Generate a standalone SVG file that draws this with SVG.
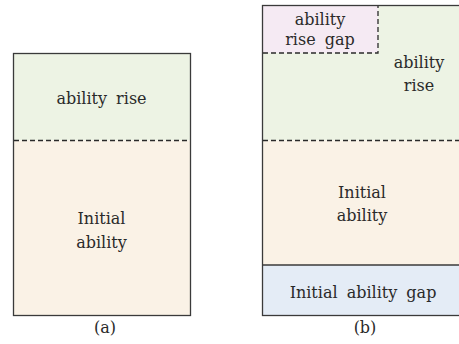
<svg xmlns="http://www.w3.org/2000/svg" width="459" height="344" viewBox="0 0 459 344">
<style>
.t{font-family:'DejaVu Serif','Liberation Serif',serif;font-size:16px;fill:#2a2a2a;text-anchor:middle;word-spacing:4px}
.box{stroke:#3a3a3a;stroke-width:1.3}
.dash{stroke:#2a2a2a;stroke-width:1.3;stroke-dasharray:5 3;fill:none}
</style>
<rect width="459" height="344" fill="#ffffff"/>
<g id="panel-a">
  <g id="a-rise">
    <rect x="13.5" y="53.5" width="177" height="87" fill="#edf3e4"/>
    <text class="t" x="101.5" y="104">ability rise</text>
  </g>
  <g id="a-initial">
    <rect x="13.5" y="140.5" width="177" height="175" fill="#faf2e6"/>
    <text class="t" x="101.5" y="224">Initial</text>
    <text class="t" x="101.5" y="248">ability</text>
  </g>
  <rect class="box" x="13.5" y="53.5" width="177" height="262" fill="none"/>
  <line class="dash" x1="14" y1="140.5" x2="190" y2="140.5"/>
  <text id="label-a" class="t" x="105" y="333">(a)</text>
</g>
<g id="panel-b">
  <g id="b-rise">
    <rect x="262.5" y="5.5" width="200" height="135" fill="#edf3e4"/>
    <text class="t" x="419" y="68">ability</text>
    <text class="t" x="419" y="91">rise</text>
  </g>
  <g id="b-rise-gap">
    <rect x="262.5" y="5.5" width="115.5" height="47.5" fill="#f5eaf3"/>
    <text class="t" x="320" y="25">ability</text>
    <text class="t" x="320" y="45">rise gap</text>
  </g>
  <g id="b-initial">
    <rect x="262.5" y="140.5" width="200" height="124.5" fill="#faf2e6"/>
    <text class="t" x="362" y="198">Initial</text>
    <text class="t" x="362" y="221">ability</text>
  </g>
  <g id="b-initial-gap">
    <rect x="262.5" y="265" width="200" height="50.5" fill="#e4ecf6"/>
    <text class="t" x="363" y="298">Initial ability gap</text>
  </g>
  <rect class="box" x="262.5" y="5.5" width="200" height="310" fill="none"/>
  <line class="box" x1="262.5" y1="265" x2="462" y2="265"/>
  <g id="connectors">
    <line class="dash" x1="263" y1="140.5" x2="462" y2="140.5"/>
    <polyline class="dash" points="263,53 378,53 378,6"/>
  </g>
  <text id="label-b" class="t" x="365" y="333">(b)</text>
</g>
</svg>
